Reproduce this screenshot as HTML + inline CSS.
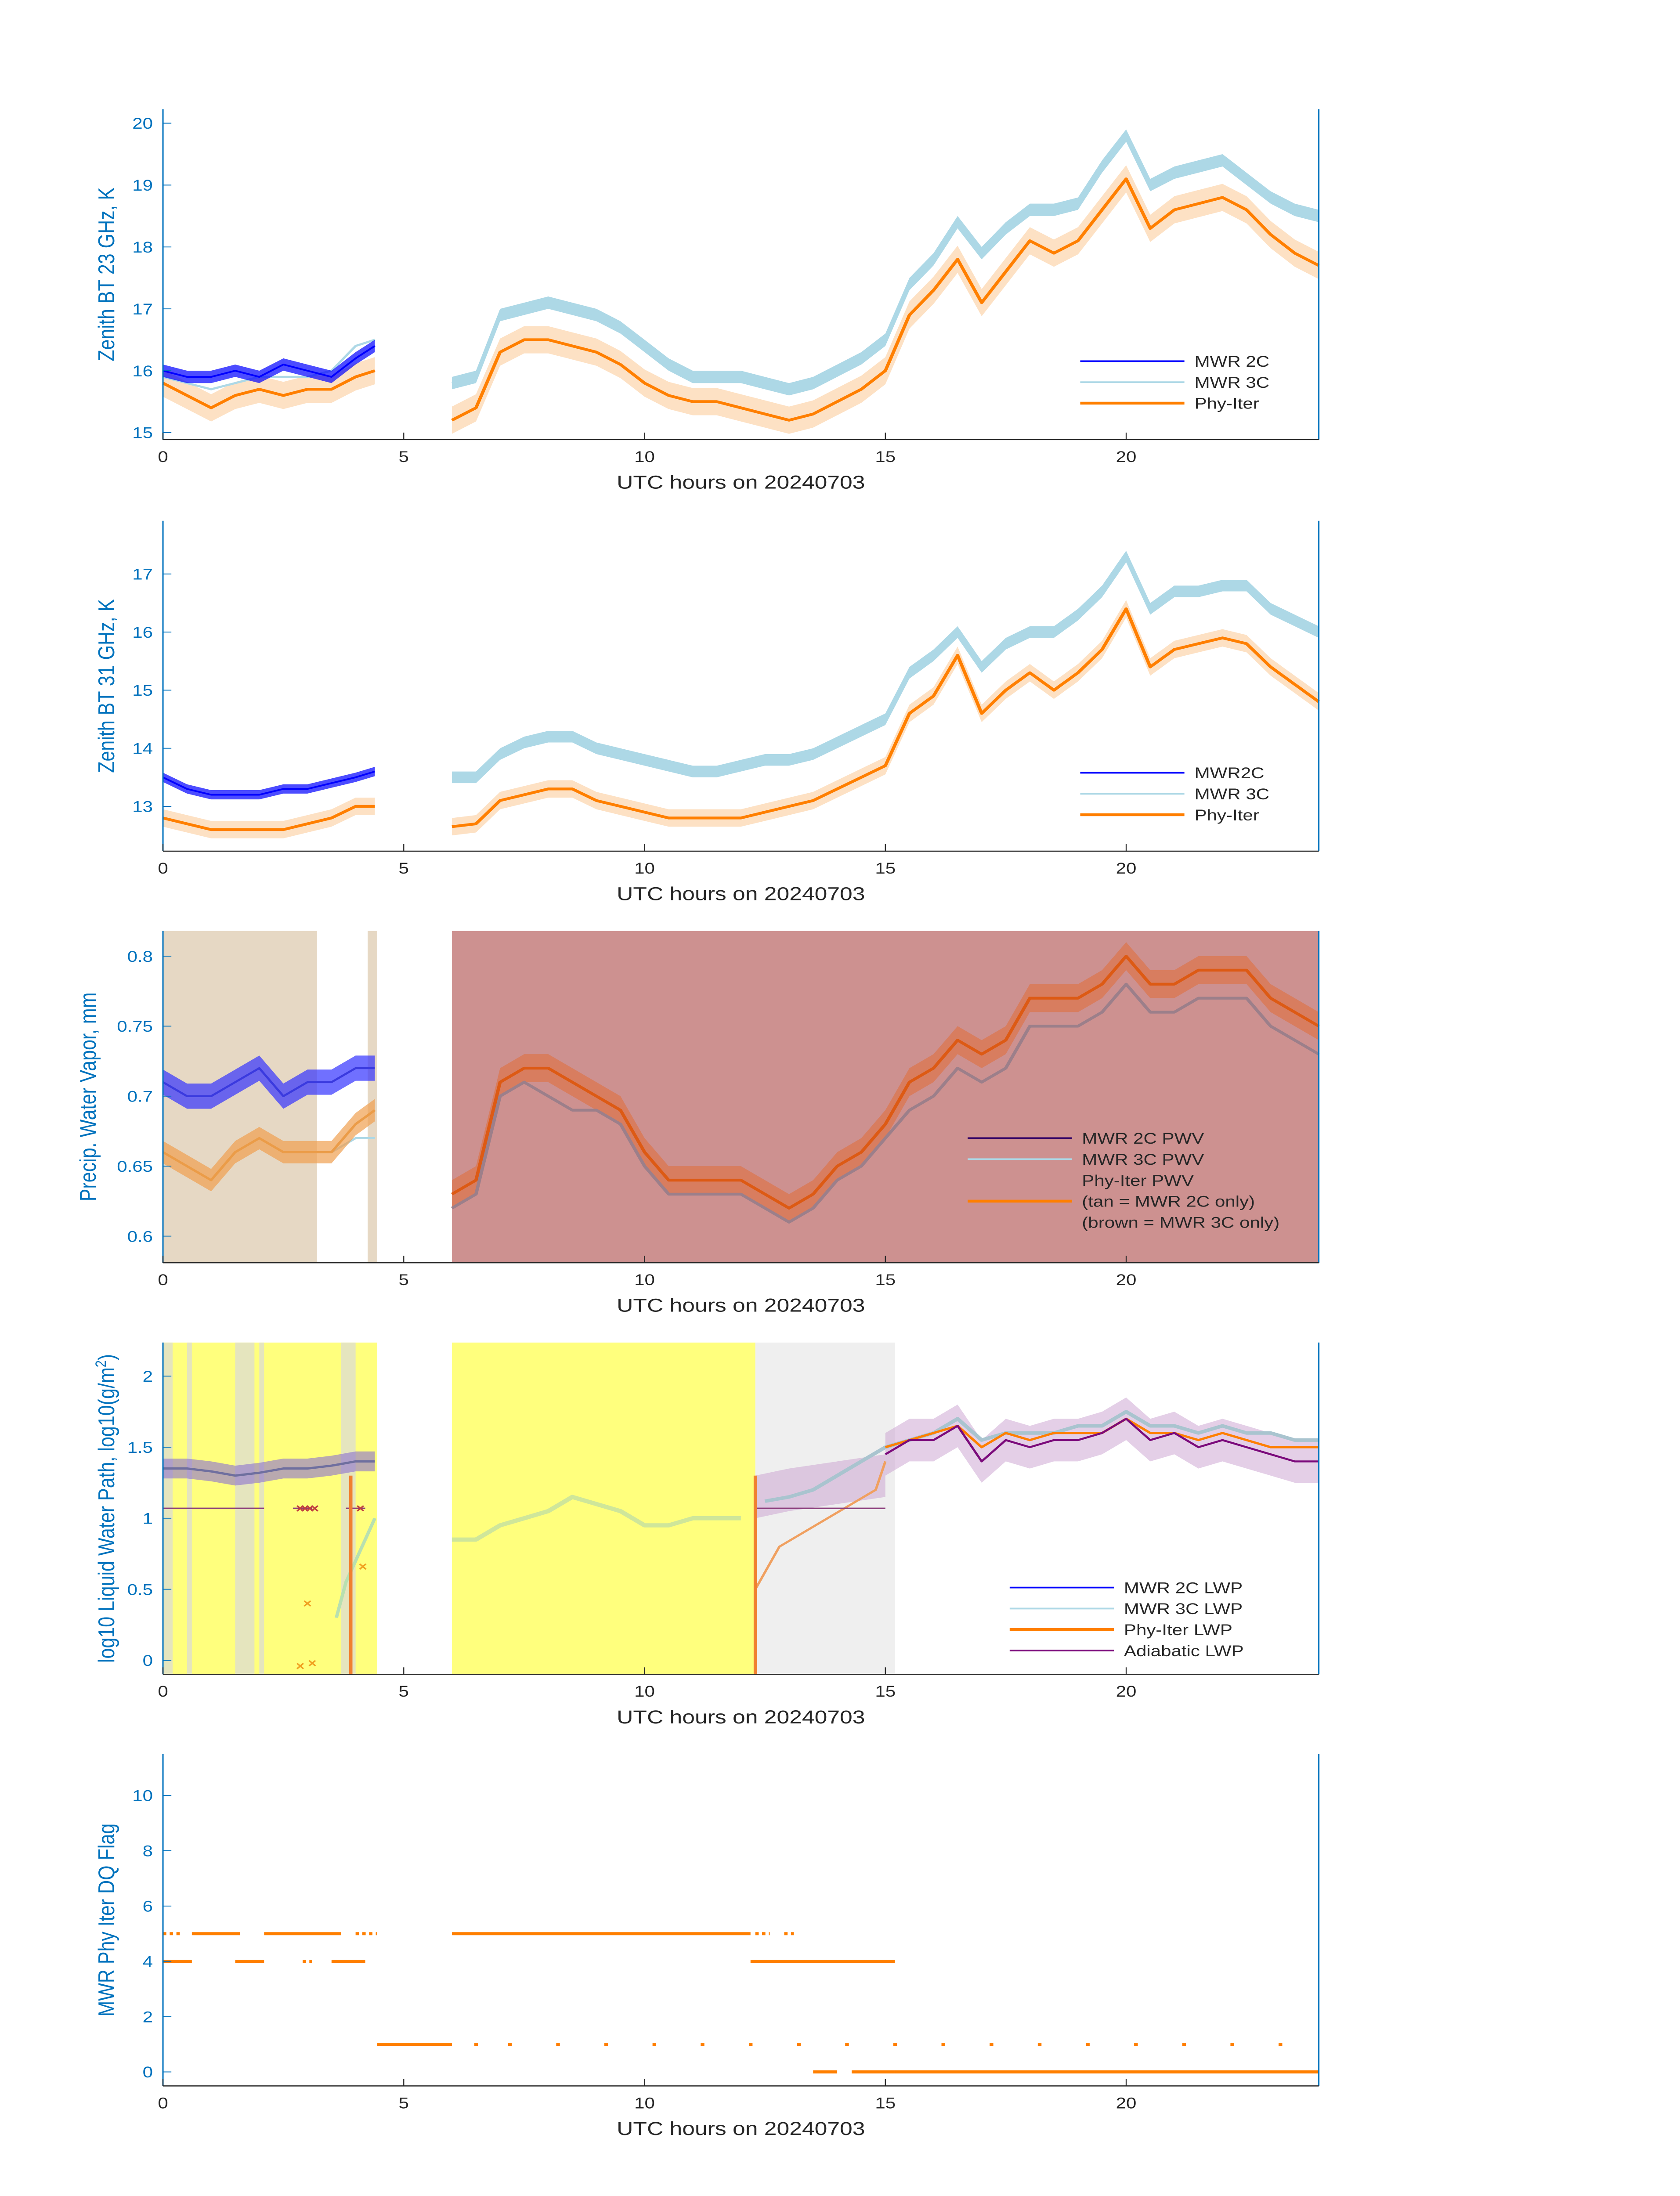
<!DOCTYPE html>
<html><head><meta charset="utf-8"><style>
html,body{margin:0;padding:0;background:#fff;overflow:hidden;width:100vw;height:100vh}
svg{display:block;width:100vw;height:100vh}
text{font-family:"Liberation Sans","DejaVu Sans",sans-serif}
</style></head><body>
<svg id="fig" xmlns="http://www.w3.org/2000/svg" viewBox="0 0 1000 1568.63" preserveAspectRatio="none"></svg>
<script>
// ---------- DATA ----------
const tA = [0,0.5,1,1.5,2,2.5,3,3.5,4,4.4];
const tB = [6,6.5,7,7.5,8,8.5,9,9.5,10,10.5,11,11.5,12,12.5,13,13.5,14,14.5,15,15.5,16,16.5,17,17.5,18,18.5,19,19.5,20,20.5,21,21.5,22,22.5,23,23.5,24];
// panel 1: 23 GHz BT
const bt23_2c = [16.0,15.9,15.9,16.0,15.9,16.1,16.0,15.9,16.2,16.4];
const bt23_3cA = [15.9,15.8,15.7,15.8,15.9,15.9,15.9,16.0,16.4,16.5];
const bt23_3cB = [15.8,15.9,16.9,17.0,17.1,17.0,16.9,16.7,16.4,16.1,15.9,15.9,15.9,15.8,15.7,15.8,16.0,16.2,16.5,17.4,17.8,18.4,17.9,18.3,18.6,18.6,18.7,19.3,19.8,19.0,19.2,19.3,19.4,19.1,18.8,18.6,18.5];
const bt23_phA = [15.8,15.6,15.4,15.6,15.7,15.6,15.7,15.7,15.9,16.0];
const bt23_phB = [15.2,15.4,16.3,16.5,16.5,16.4,16.3,16.1,15.8,15.6,15.5,15.5,15.4,15.3,15.2,15.3,15.5,15.7,16.0,16.9,17.3,17.8,17.1,17.6,18.1,17.9,18.1,18.6,19.1,18.3,18.6,18.7,18.8,18.6,18.2,17.9,17.7];
// panel 2: 31 GHz BT
const bt31_2c = [13.5,13.3,13.2,13.2,13.2,13.3,13.3,13.4,13.5,13.6];
const bt31_3cB = [13.5,13.5,13.9,14.1,14.2,14.2,14.0,13.9,13.8,13.7,13.6,13.6,13.7,13.8,13.8,13.9,14.1,14.3,14.5,15.3,15.6,16.0,15.4,15.8,16.0,16.0,16.3,16.7,17.3,16.4,16.7,16.7,16.8,16.8,16.4,16.2,16.0];
const bt31_phA = [12.8,12.7,12.6,12.6,12.6,12.6,12.7,12.8,13.0,13.0];
const bt31_phB = [12.65,12.7,13.1,13.2,13.3,13.3,13.1,13.0,12.9,12.8,12.8,12.8,12.8,12.9,13.0,13.1,13.3,13.5,13.7,14.6,14.9,15.6,14.6,15.0,15.3,15.0,15.3,15.7,16.4,15.4,15.7,15.8,15.9,15.8,15.4,15.1,14.8];
// panel 3: PWV
const pwv_2c = [0.71,0.70,0.70,0.71,0.72,0.70,0.71,0.71,0.72,0.72];
const pwv_phA = [0.66,0.65,0.64,0.66,0.67,0.66,0.66,0.66,0.68,0.69];
const pwv_phB = [0.63,0.64,0.71,0.72,0.72,0.71,0.70,0.69,0.66,0.64,0.64,0.64,0.64,0.63,0.62,0.63,0.65,0.66,0.68,0.71,0.72,0.74,0.73,0.74,0.77,0.77,0.77,0.78,0.80,0.78,0.78,0.79,0.79,0.79,0.77,0.76,0.75];
const pwv_3cB = [0.62,0.63,0.70,0.71,0.70,0.69,0.69,0.68,0.65,0.63,0.63,0.63,0.63,0.62,0.61,0.62,0.64,0.65,0.67,0.69,0.70,0.72,0.71,0.72,0.75,0.75,0.75,0.76,0.78,0.76,0.76,0.77,0.77,0.77,0.75,0.74,0.73];
// panel 4: LWP
const lwp_2c = [1.35,1.35,1.33,1.30,1.32,1.35,1.35,1.37,1.40,1.40];
const lwp_3cB = [0.85,0.85,0.95,1.0,1.05,1.15,1.1,1.05,0.95,0.95,1.0,1.0,1.0,1.12,1.15,1.2,1.3,1.4,1.5,1.55,1.6,1.7,1.55,1.6,1.6,1.6,1.65,1.65,1.75,1.65,1.65,1.6,1.65,1.6,1.6,1.55,1.55];
const tC = [15,15.5,16,16.5,17,17.5,18,18.5,19,19.5,20,20.5,21,21.5,22,22.5,23,23.5,24];
const lwp_ph = [1.5,1.55,1.6,1.65,1.5,1.6,1.55,1.6,1.6,1.6,1.7,1.6,1.6,1.55,1.6,1.55,1.5,1.5,1.5];
const lwp_ad = [1.45,1.55,1.55,1.65,1.4,1.55,1.5,1.55,1.55,1.6,1.7,1.55,1.6,1.5,1.55,1.5,1.45,1.4,1.4];
const tD = [12.3,12.8,13.3,13.8,14.3,14.8,15.0];
const lwp_phD = [0.5,0.8,0.9,1.0,1.1,1.2,1.4];
const adSegs = [[0,1.6],[1.6,2.1],[2.7,3.1],[3.8,4.2],[12.3,15.0]];
const adLevel = 1.07;
const xMarkT = [2.85,2.95,3.05,3.15,4.1];
const xMarkV = [1.07,1.07,1.07,1.07,1.07];
const yMarkT = [2.85,3.0,3.1,4.15];
const yMarkV = [-0.04,0.4,-0.02,0.66];
const ySpikes = [[0.3,0.62],[3.9,-0.1],[12.3,-0.1]];
const yellowSegs = [[0,4.45],[6,12.3]];
const greySegs = [[0,0.2],[0.5,0.6],[1.5,1.9],[2.0,2.1],[3.7,4.0]];
const greyLight = [[12.3,15.2]];
// panel 5: DQ flag
const dq5 = [[0,0.4],[0.6,1.6],[2.1,3.7],[4.0,4.45],[6,12.2],[12.3,12.6],[12.9,13.1]];
const dq4 = [[0,0.6],[1.5,2.1],[2.9,3.1],[3.5,4.2],[12.2,15.2]];
const dq1 = [[4.45,6.0]];
const dq1dots = [6.5,7.2,8.2,9.2,10.2,11.2,12.2,13.2,14.2,15.2,16.2,17.2,18.2,19.2,20.2,21.2,22.2,23.2];
const dq0 = [[13.5,14.0],[14.3,15.2],[15.2,24]];

// ---------- DRAW ----------
const svg = document.getElementById('fig');
const NS = 'http://www.w3.org/2000/svg';
const X0 = 97, X1 = 785;
const X = t => X0 + t * (X1 - X0) / 24;
function mk(tag, attrs, parent) {
  const e = document.createElementNS(NS, tag);
  for (const k in attrs) e.setAttribute(k, attrs[k]);
  (parent || svg).appendChild(e);
  return e;
}
function pathOf(ts, vs, Y) { return ts.map((t, i) => (i ? 'L' : 'M') + X(t).toFixed(2) + ',' + Y(vs[i]).toFixed(2)).join(''); }
function band(ts, vs, w, Y) {
  let d = ts.map((t, i) => (i ? 'L' : 'M') + X(t).toFixed(2) + ',' + Y(vs[i] + w).toFixed(2)).join('');
  for (let i = ts.length - 1; i >= 0; i--) d += 'L' + X(ts[i]).toFixed(2) + ',' + Y(vs[i] - w).toFixed(2);
  return d + 'Z';
}
function panel(name, top, bot, v0, y0, k, ticks, fmt, ylabel) {
  const g = mk('g', {});
  
  
  const Y = v => y0 - (v - v0) * k;
  return { g, Y, top, bot, ticks, fmt, ylabel, name };
}
function axes(p) {
  const g = p.g;
  const ax = mk('g', {}, g);
  
  
  mk('line', { x1: X0, y1: p.top, x2: X0, y2: p.bot, stroke: '#0072bd', 'stroke-width': 0.8 }, ax);
  mk('line', { x1: X1, y1: p.top, x2: X1, y2: p.bot, stroke: '#0072bd', 'stroke-width': 0.8 }, ax);
  mk('line', { x1: X0, y1: p.bot, x2: X1, y2: p.bot, stroke: '#262626', 'stroke-width': 0.8 }, ax);
  for (const v of p.ticks) {
    const y = p.Y(v);
    mk('line', { x1: X0, y1: y, x2: X0 + 5, y2: y, stroke: '#0072bd', 'stroke-width': 0.6 }, ax);
    const t = mk('text', { x: X0 - 6, y: y + 4, 'font-size': 11, fill: '#0072bd', 'text-anchor': 'end' }, ax);
    t.textContent = p.fmt(v);
    
    
  }
  for (const h of [0, 5, 10, 15, 20]) {
    mk('line', { x1: X(h), y1: p.bot, x2: X(h), y2: p.bot - 5, stroke: '#262626', 'stroke-width': 0.6 }, ax);
    const t = mk('text', { x: X(h), y: p.bot + 16, 'font-size': 11, fill: '#262626', 'text-anchor': 'middle' }, ax);
    t.textContent = h;
    
    
  }
  const xl = mk('text', { x: 441, y: p.bot + 35, 'font-size': 13.5, fill: '#262626', 'text-anchor': 'middle' }, ax);
  xl.textContent = 'UTC hours on 20240703';
  
  
  const cy = (p.top + p.bot) / 2;
  const yl = mk('text', { x: 0, y: 0, 'font-size': 13.5, fill: '#0072bd', 'text-anchor': 'middle', transform: `translate(${p.ylx || 68},${cy}) rotate(-90)` }, ax);
  yl.innerHTML = p.ylabel;
  
  
}
function line(p, ts, vs, color, w, name, op) {
  const e = mk('path', { d: pathOf(ts, vs, p.Y), fill: 'none', stroke: color, 'stroke-width': w, 'stroke-linejoin': 'round', opacity: op || 1 }, p.g);
  
  
}
function shade(p, ts, vs, w, color, op, name) {
  const e = mk('path', { d: band(ts, vs, w, p.Y), fill: color, opacity: op }, p.g);
  
  
}
function rect(p, t0, t1, color, op, name) {
  const e = mk('rect', { x: X(t0), y: p.top, width: X(t1) - X(t0), height: p.bot - p.top, fill: color, opacity: op || 1 }, p.g);
  
  
}
function legend(p, x, y, entries) {
  const g = mk('g', {}, p.g);
  
  
  entries.forEach((en, i) => {
    const yy = y + i * 15;
    if (en[1]) mk('line', { x1: x, y1: yy, x2: x + 62, y2: yy, stroke: en[1], 'stroke-width': en[2] || 1.2 }, g);
    const t = mk('text', { x: x + 68, y: yy + 4, 'font-size': 11, fill: '#262626' }, g);
    t.textContent = en[0];
    
    
  });
}

// Panel 1
const p1 = panel('panel-bt23', 78, 314, 15, 309, 44.2, [15,16,17,18,19,20], v => v, 'Zenith BT 23 GHz, K');
shade(p1, tA, bt23_phA, 0.22, '#fdd9b5', 0.8, 'phy-iter-uncertainty');
shade(p1, tB, bt23_phB, 0.22, '#fdd9b5', 0.8, 'phy-iter-uncertainty');
shade(p1, tB, bt23_3cB, 0.1, '#add8e6', 1, 'mwr3c-noise');
line(p1, tB, bt23_3cB, '#add8e6', 1.5, 'mwr3c-line');
line(p1, tA, bt23_3cA, '#add8e6', 1.5, 'mwr3c-line');
shade(p1, tA, bt23_2c, 0.1, '#0000ff', 0.7, 'mwr2c-noise');
line(p1, tA, bt23_2c, '#0000ff', 1.2, 'mwr2c-line');
line(p1, tA, bt23_phA, '#ff7f00', 2, 'phy-iter-line');
line(p1, tB, bt23_phB, '#ff7f00', 2, 'phy-iter-line');
axes(p1);
legend(p1, 643, 258, [['MWR 2C', '#0000ff'], ['MWR 3C', '#add8e6'], ['Phy-Iter', '#ff7f00', 2]]);

// Panel 2
const p2 = panel('panel-bt31', 372, 608, 13, 576, 41.5, [13,14,15,16,17], v => v, 'Zenith BT 31 GHz, K');
shade(p2, tA, bt31_phA, 0.15, '#fdd9b5', 0.8, 'phy-iter-uncertainty');
shade(p2, tB, bt31_phB, 0.15, '#fdd9b5', 0.8, 'phy-iter-uncertainty');
shade(p2, tB, bt31_3cB, 0.1, '#add8e6', 1, 'mwr3c-noise');
line(p2, tB, bt31_3cB, '#add8e6', 1.5, 'mwr3c-line');
shade(p2, tA, bt31_2c, 0.08, '#0000ff', 0.7, 'mwr2c-noise');
line(p2, tA, bt31_2c, '#0000ff', 1.2, 'mwr2c-line');
line(p2, tA, bt31_phA, '#ff7f00', 2, 'phy-iter-line');
line(p2, tB, bt31_phB, '#ff7f00', 2, 'phy-iter-line');
axes(p2);
legend(p2, 643, 552, [['MWR2C', '#0000ff'], ['MWR 3C', '#add8e6'], ['Phy-Iter', '#ff7f00', 2]]);

// Panel 3
const p3 = panel('panel-pwv', 665, 902, 0.6, 883, 1000, [0.6,0.65,0.7,0.75,0.8], v => String(v), 'Precip. Water Vapor, mm');
p3.ylx = 57;
rect(p3, 0, 3.2, '#e6d8c4', 1, 'tan-bg-2c-only');
rect(p3, 4.25, 4.45, '#e6d8c4', 1, 'tan-bg-2c-only');
rect(p3, 6, 24, '#cd9190', 1, 'brown-bg-3c-only');
shade(p3, tB, pwv_phB, 0.01, '#e07040', 0.6, 'phy-iter-uncertainty');
line(p3, tB, pwv_3cB, '#9c7f8a', 2, 'mwr3c-line');
shade(p3, tA, pwv_2c, 0.009, '#3333ff', 0.7, 'mwr2c-noise');
line(p3, tA, pwv_2c, '#3a3adf', 1.4, 'mwr2c-line');
line(p3, [3.5,4,4.4], [0.66,0.67,0.67], '#add8e6', 1.5, 'mwr3c-line');
shade(p3, tA, pwv_phA, 0.008, '#f0a050', 0.7, 'phy-iter-noise');
line(p3, tA, pwv_phA, '#eb9c48', 1.6, 'phy-iter-line');
line(p3, tB, pwv_phB, '#dd5a14', 2, 'phy-iter-line');
axes(p3);
legend(p3, 576, 813, [['MWR 2C PWV', '#330066'], ['MWR 3C PWV', '#add8e6'], ['Phy-Iter PWV', null], ['(tan = MWR 2C only)', '#ff7f00', 2], ['(brown = MWR 3C only)', null]]);

// Panel 4
const p4 = panel('panel-lwp', 959, 1196, 0, 1186, 101.5, [0,0.5,1,1.5,2], v => v, 'log10 Liquid Water Path, log10(g/m<tspan font-size="9" dy="-5">2</tspan><tspan dy="5">)</tspan>');
for (const s of yellowSegs) rect(p4, s[0], s[1], '#ffff7d', 1, 'yellow-bg');
for (const s of greySegs) rect(p4, s[0], s[1], '#dadada', 0.7, 'grey-bg');
for (const s of greyLight) rect(p4, s[0], s[1], '#e4e4e4', 0.6, 'grey-bg');
shade(p4, tC, lwp_ad, 0.15, '#c9a0d0', 0.5, 'adiabatic-uncertainty');
shade(p4, [12.3,13,14,15], [1.15,1.2,1.25,1.3], 0.15, '#c9a0d0', 0.5, 'adiabatic-uncertainty');
shade(p4, tA, lwp_2c, 0.07, '#8a70d0', 0.6, 'mwr2c-noise');
line(p4, tA, lwp_2c, '#6f6f9f', 1.6, 'mwr2c-line');
line(p4, tB.slice(0, 13), lwp_3cB.slice(0, 13), '#cfe69a', 3, 'mwr3c-line');
line(p4, tB.slice(13), lwp_3cB.slice(13), '#a9c4cf', 2.5, 'mwr3c-line');
line(p4, [3.6,3.8,4.0,4.2,4.4], [0.3,0.55,0.7,0.85,1.0], '#b8e0b0', 2, 'mwr3c-line');
line(p4, tD, lwp_phD, '#f0a060', 1.5, 'phy-iter-line');
line(p4, tC, lwp_ph, '#ff7f00', 1.6, 'phy-iter-line');
line(p4, tC, lwp_ad, '#7b0a7b', 1.4, 'adiabatic-line');
for (const s of adSegs) line(p4, [s[0], s[1]], [adLevel, adLevel], '#8a3a7a', 1, 'adiabatic-line');
for (const s of ySpikes) line(p4, [s[0], s[0]], [s[1] < 0.5 ? 1.3 : 0.62, s[1]], '#f08030', 2, 'phy-iter-spike');
xMarkT.forEach((t, i) => {
  const e = mk('text', { x: X(t), y: p4.Y(xMarkV[i]) + 3, 'font-size': 9, fill: '#c04040', 'text-anchor': 'middle', 'font-weight': 'bold' }, p4.g);
  e.textContent = '×';
  
  
});
yMarkT.forEach((t, i) => {
  const e = mk('text', { x: X(t), y: p4.Y(yMarkV[i]) + 3, 'font-size': 9, fill: '#f0a020', 'text-anchor': 'middle', 'font-weight': 'bold' }, p4.g);
  e.textContent = '×';
  
  
});
axes(p4);
legend(p4, 601, 1134, [['MWR 2C LWP', '#0000ff'], ['MWR 3C LWP', '#add8e6'], ['Phy-Iter LWP', '#ff7f00', 2], ['Adiabatic LWP', '#7b0a7b']]);

// Panel 5
const p5 = panel('panel-dq-flag', 1253, 1490, 0, 1480, 19.75, [0,2,4,6,8,10], v => v, 'MWR Phy Iter DQ Flag');
function segs(list, v, name) {
  for (const s of list) {
    const e = mk('line', { x1: X(s[0]), y1: p5.Y(v), x2: X(s[1]), y2: p5.Y(v), stroke: '#ff7f00', 'stroke-width': 2.2, 'stroke-dasharray': (s[1] - s[0] < 0.5 ? '2,2' : 'none') }, p5.g);
    
    
  }
}
segs(dq5, 5, 'flag-5-points');
segs(dq4, 4, 'flag-4-points');
segs(dq1, 1, 'flag-1-points');
segs(dq0, 0, 'flag-0-points');
for (const t of dq1dots) {
  const e = mk('rect', { x: X(t) - 1, y: p5.Y(1) - 1.1, width: 2.2, height: 2.2, fill: '#ff7f00' }, p5.g);
  
  
}
axes(p5);
</script>
</body></html>
